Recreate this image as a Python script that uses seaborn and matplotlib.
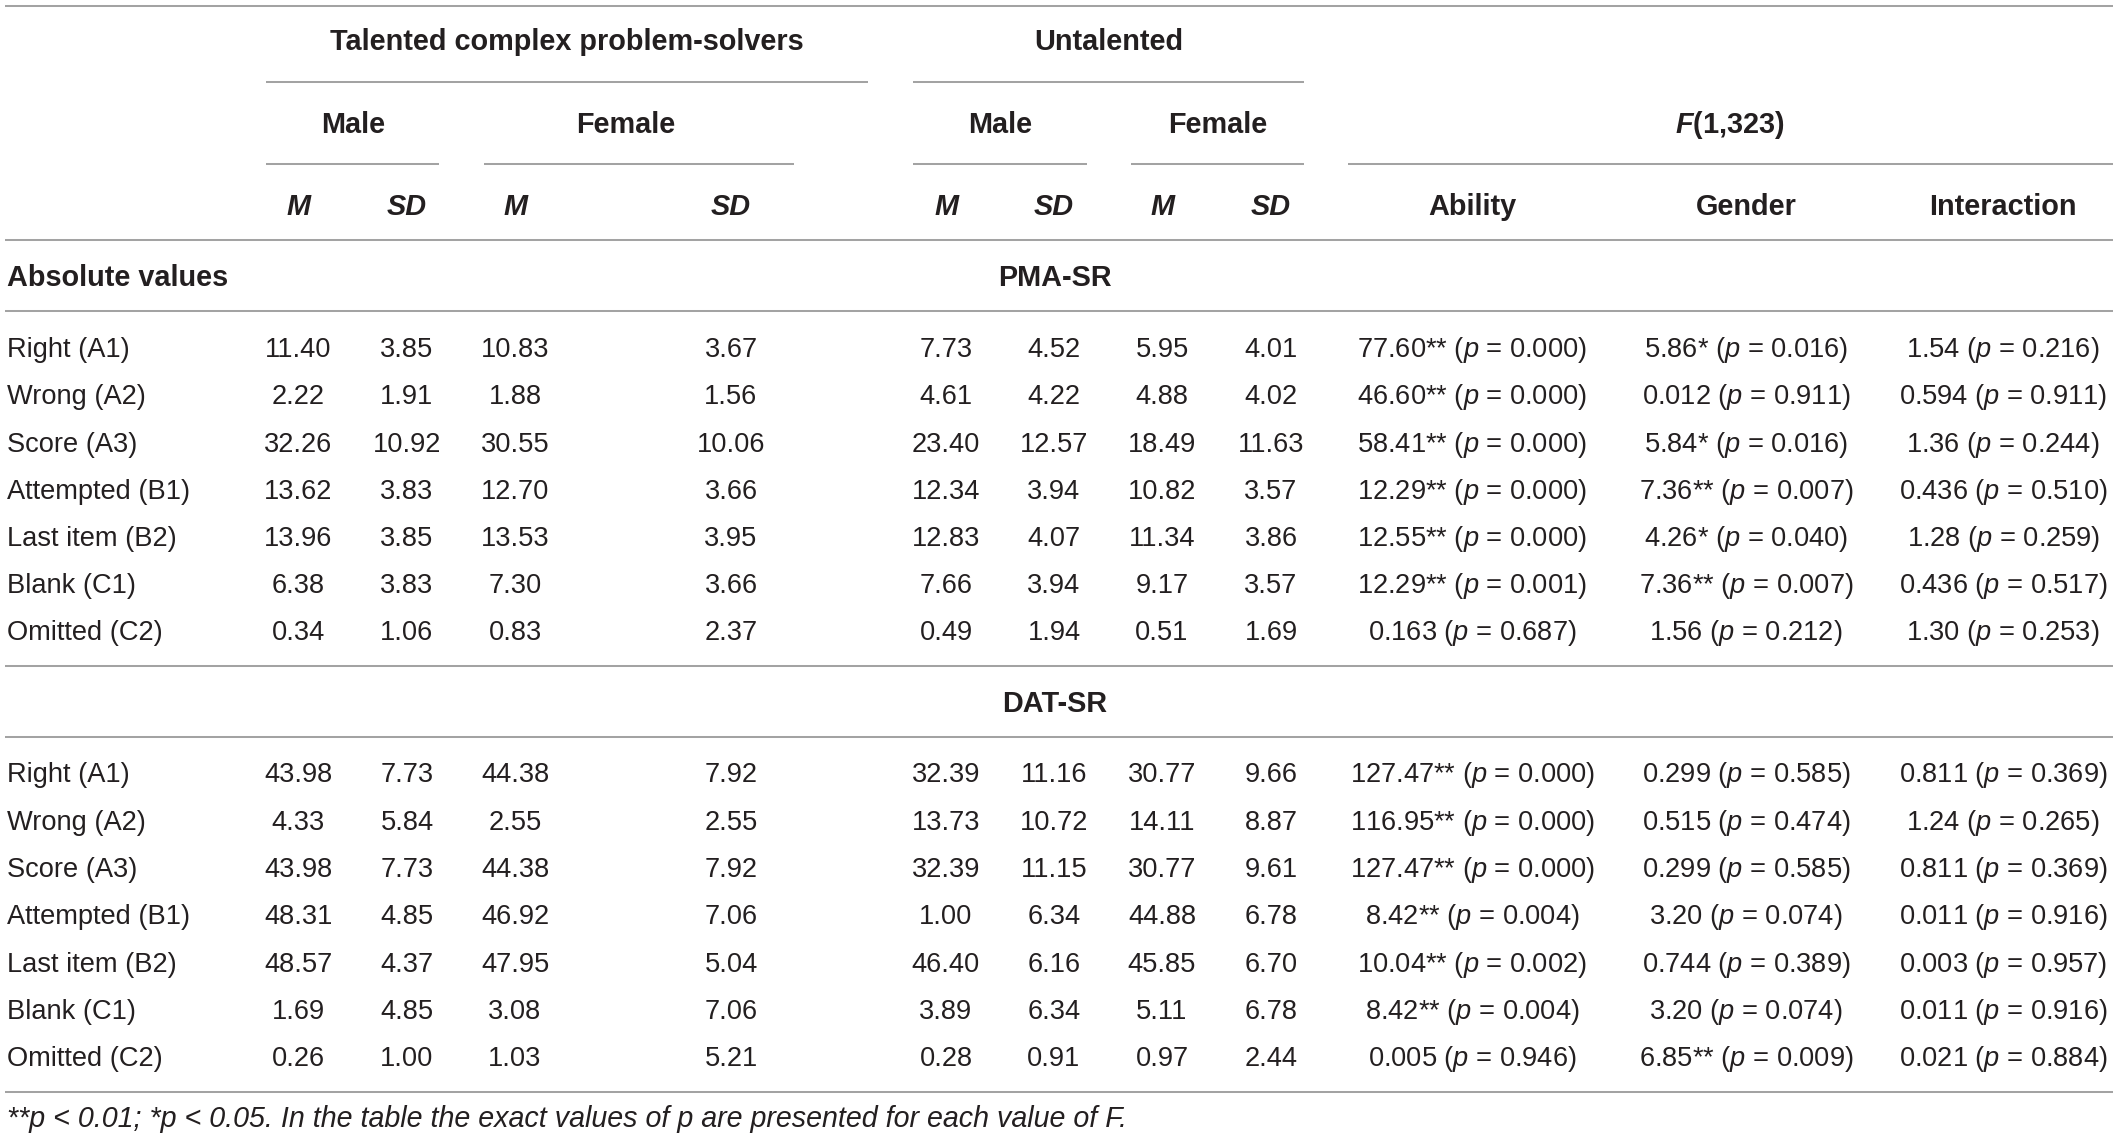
import matplotlib
matplotlib.use("Agg")
import matplotlib.pyplot as plt
import seaborn as sns

row_labels = ["Right (A1)", "Wrong (A2)", "Score (A3)", "Attempted (B1)",
              "Last item (B2)", "Blank (C1)", "Omitted (C2)"]

# PMA-SR
pma_tal_male_m = [11.40, 2.22, 32.26, 13.62, 13.96, 6.38, 0.34]
pma_tal_male_sd = [3.85, 1.91, 10.92, 3.83, 3.85, 3.83, 1.06]
pma_tal_fem_m = [10.83, 1.88, 30.55, 12.70, 13.53, 7.30, 0.83]
pma_tal_fem_sd = [3.67, 1.56, 10.06, 3.66, 3.95, 3.66, 2.37]
pma_unt_male_m = [7.73, 4.61, 23.40, 12.34, 12.83, 7.66, 0.49]
pma_unt_male_sd = [4.52, 4.22, 12.57, 3.94, 4.07, 3.94, 1.94]
pma_unt_fem_m = [5.95, 4.88, 18.49, 10.82, 11.34, 9.17, 0.51]
pma_unt_fem_sd = [4.01, 4.02, 11.63, 3.57, 3.86, 3.57, 1.69]
pma_ability_f = ["77.60**", "46.60**", "58.41**", "12.29**", "12.55**", "12.29**", "0.163"]
pma_ability_p = ["0.000", "0.000", "0.000", "0.000", "0.000", "0.001", "0.687"]
pma_gender_f = ["5.86*", "0.012", "5.84*", "7.36**", "4.26*", "7.36**", "1.56"]
pma_gender_p = ["0.016", "0.911", "0.016", "0.007", "0.040", "0.007", "0.212"]
pma_inter_f = ["1.54", "0.594", "1.36", "0.436", "1.28", "0.436", "1.30"]
pma_inter_p = ["0.216", "0.911", "0.244", "0.510", "0.259", "0.517", "0.253"]

# DAT-SR
dat_tal_male_m = [43.98, 4.33, 43.98, 48.31, 48.57, 1.69, 0.26]
dat_tal_male_sd = [7.73, 5.84, 7.73, 4.85, 4.37, 4.85, 1.00]
dat_tal_fem_m = [44.38, 2.55, 44.38, 46.92, 47.95, 3.08, 1.03]
dat_tal_fem_sd = [7.92, 2.55, 7.92, 7.06, 5.04, 7.06, 5.21]
dat_unt_male_m = [32.39, 13.73, 32.39, 1.00, 46.40, 3.89, 0.28]
dat_unt_male_sd = [11.16, 10.72, 11.15, 6.34, 6.16, 6.34, 0.91]
dat_unt_fem_m = [30.77, 14.11, 30.77, 44.88, 45.85, 5.11, 0.97]
dat_unt_fem_sd = [9.66, 8.87, 9.61, 6.78, 6.70, 6.78, 2.44]
dat_ability_f = ["127.47**", "116.95**", "127.47**", "8.42**", "10.04**", "8.42**", "0.005"]
dat_ability_p = ["0.000", "0.000", "0.000", "0.004", "0.002", "0.004", "0.946"]
dat_gender_f = ["0.299", "0.515", "0.299", "3.20", "0.744", "3.20", "6.85**"]
dat_gender_p = ["0.585", "0.474", "0.585", "0.074", "0.389", "0.074", "0.009"]
dat_inter_f = ["0.811", "1.24", "0.811", "0.011", "0.003", "0.011", "0.021"]
dat_inter_p = ["0.369", "0.265", "0.369", "0.916", "0.957", "0.916", "0.884"]

group_headers = ["Talented complex problem-solvers", "Untalented"]
gender_headers = ["Male", "Female", "Male", "Female"]
f_header = "F(1,323)"
sub_headers = ["M", "SD", "M", "SD", "M", "SD", "M", "SD"]
effect_headers = ["Ability", "Gender", "Interaction"]
section_titles = ["PMA-SR", "DAT-SR"]
corner_label = "Absolute values"
footnote = ("**p < 0.01; *p < 0.05. In the table the exact values of p are "
            "presented for each value of F.")

# ---------------- layout (pixel units of the 2118x1141 canvas) ----------------
W, H = 2118, 1141
num_x = [298.5, 407, 515, 731, 946, 1054, 1162, 1271]
eff_x = [1472, 1746, 2003]
label_x = 7
grp_x = [567, 1109]
grp_lines = [(266, 868), (913, 1304)]
gen_x = [353, 626, 1000, 1218]
gen_lines = [(266, 439), (484, 794), (913, 1087), (1131, 1304)]
f_x = 1730
f_line = (1348, 2113)
y_grp, y_grp_line = 40.5, 82
y_gen, y_gen_line = 123, 163.5
y_sub = 205
full_lines_y = [5.5, 239.5, 311, 666, 737, 1092]
y_corner = 276.5
sec_x = 1055
sec_y = [276.5, 702.5]
row_y0 = [347, 772.5]
row_step = 47.25
y_foot = 1117
base_off = 10  # baseline offset from visual text centre

TXT = "#231f20"
RULE = "#a3a3a3"
FS_BODY = 19.6
FS_HEAD = 20.8
FS_FOOT = 20.6

sns.set_theme(style="white")
plt.rcParams["font.family"] = ["Liberation Sans", "DejaVu Sans"]
plt.rcParams["mathtext.fontset"] = "custom"
plt.rcParams["mathtext.it"] = "Liberation Sans:italic"
plt.rcParams["mathtext.rm"] = "Liberation Sans"
plt.rcParams["mathtext.bf"] = "Liberation Sans:bold"
plt.rcParams["mathtext.bfit"] = "Liberation Sans:italic:bold"

fig = plt.figure(figsize=(W / 100, H / 100), dpi=100)
fig.patch.set_facecolor("white")
ax = fig.add_axes([0, 0, 1, 1])
ax.set_xlim(0, W)
ax.set_ylim(H, 0)
ax.axis("off")

bold = dict(family=["Liberation Sans", "DejaVu Sans"], fontweight="bold",
            fontsize=FS_HEAD, color=TXT, va="baseline")
light = dict(family=["Liberation Sans", "DejaVu Sans"], fontweight="normal",
             fontsize=FS_BODY, color=TXT, va="baseline")

# rules
lw = 1.45
ax.hlines(full_lines_y, 5, 2113, colors=RULE, linewidth=lw)
for (a, b) in grp_lines:
    ax.hlines(y_grp_line, a, b, colors=RULE, linewidth=lw)
for (a, b) in gen_lines:
    ax.hlines(y_gen_line, a, b, colors=RULE, linewidth=lw)
ax.hlines(y_gen_line, f_line[0], f_line[1], colors=RULE, linewidth=lw)

# headers
for x, t in zip(grp_x, group_headers):
    ax.text(x, y_grp + base_off, t, ha="center", **bold)
for x, t in zip(gen_x, gender_headers):
    ax.text(x, y_gen + base_off, t, ha="center", **bold)
ax.text(f_x, y_gen + base_off, r"$\mathbfit{F}$" + f_header[1:], ha="center", **bold)
for x, t in zip(num_x, sub_headers):
    ax.text(x, y_sub + base_off, t, ha="center", style="italic", **bold)
for x, t in zip(eff_x, effect_headers):
    ax.text(x, y_sub + base_off, t, ha="center", **bold)
ax.text(label_x, y_corner + base_off, corner_label, ha="left", **bold)
for x_y, t in zip(sec_y, section_titles):
    ax.text(sec_x, x_y + base_off, t, ha="center", **bold)

sections = [
    ([pma_tal_male_m, pma_tal_male_sd, pma_tal_fem_m, pma_tal_fem_sd,
      pma_unt_male_m, pma_unt_male_sd, pma_unt_fem_m, pma_unt_fem_sd],
     [(pma_ability_f, pma_ability_p), (pma_gender_f, pma_gender_p),
      (pma_inter_f, pma_inter_p)]),
    ([dat_tal_male_m, dat_tal_male_sd, dat_tal_fem_m, dat_tal_fem_sd,
      dat_unt_male_m, dat_unt_male_sd, dat_unt_fem_m, dat_unt_fem_sd],
     [(dat_ability_f, dat_ability_p), (dat_gender_f, dat_gender_p),
      (dat_inter_f, dat_inter_p)]),
]

for s, (num_cols, eff_cols) in enumerate(sections):
    for i, lab in enumerate(row_labels):
        y = row_y0[s] + i * row_step + base_off
        ax.text(label_x, y, lab, ha="left", **light)
        for x, col in zip(num_x, num_cols):
            ax.text(x, y, f"{col[i]:.2f}", ha="center", **light)
        for x, (fv, pv) in zip(eff_x, eff_cols):
            ax.text(x, y, f"{fv[i]} ($\\mathit{{p}}$ = {pv[i]})", ha="center", **light)

foot_style = dict(light)
foot_style["fontsize"] = FS_FOOT
ax.text(label_x, y_foot + base_off, footnote, ha="left", style="italic", **foot_style)

fig.savefig("out.png", dpi=100, facecolor="white")
